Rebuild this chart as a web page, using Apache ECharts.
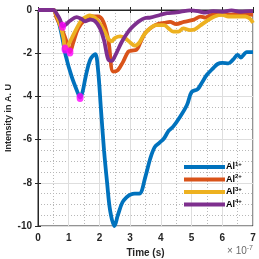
<!DOCTYPE html>
<html><head><meta charset="utf-8">
<script src="https://cdn.jsdelivr.net/npm/echarts@6/dist/echarts.min.js"></script>
<style>html,body{margin:0;padding:0;background:#fff}#c{width:259px;height:259px}</style>
</head><body><div id="c"></div>
<script>
// ---- data (time in units of 1e-7 s, intensity in A.U.) ----
const ionBase = 'Al';
const ionCharges = ['1+', '2+', '3+', '4+'];
const xTicks = [0, 1, 2, 3, 4, 5, 6, 7];
const yTicks = [0, -2, -4, -6, -8, -10];
const xTitle = 'Time (s)';
const yTitle = 'Intensity in A. U';

const al1T = [0, 0.5, 0.6, 0.7, 0.8, 0.9, 1.1, 1.3, 1.37, 1.45, 1.55, 1.7, 1.86, 1.95, 2.05, 2.15, 2.25, 2.35, 2.49, 2.6, 2.75, 2.9, 3.0, 3.15, 3.3, 3.5, 3.65, 3.8, 3.95, 4.1, 4.25, 4.4, 4.6, 4.85, 5.0, 5.2, 5.35, 5.5, 5.7, 5.85, 6.0, 6.2, 6.35, 6.5, 6.6, 6.8, 7.0];
const al1V = [0, 0, -0.25, -0.7, -1.35, -2.1, -3.1, -3.85, -4.05, -3.8, -3.1, -2.3, -2.04, -2.7, -4.6, -6.5, -8.0, -9.3, -10.0, -9.5, -8.9, -8.65, -8.55, -8.5, -8.5, -7.7, -6.9, -6.35, -6.15, -5.95, -5.6, -5.4, -5.0, -4.4, -3.8, -3.66, -3.33, -3.0, -2.7, -2.5, -2.45, -2.47, -2.3, -2.08, -2.2, -1.95, -1.95];

const al2T = [0, 0.5, 0.6, 0.77, 0.93, 1.04, 1.15, 1.31, 1.53, 1.75, 1.96, 2.13, 2.29, 2.45, 2.6, 2.77, 2.94, 3.05, 3.2, 3.35, 3.5, 3.7, 3.9, 4.1, 4.3, 4.5, 4.75, 5.05, 5.3, 5.45, 5.65, 5.9, 6.2, 6.5, 6.8, 7.0];
const al2V = [0, 0, -0.35, -0.85, -1.47, -1.95, -1.5, -0.85, -0.46, -0.3, -0.3, -0.55, -1.4, -2.85, -2.78, -2.4, -1.93, -1.88, -1.85, -1.45, -1.05, -0.8, -0.65, -0.6, -0.55, -0.65, -0.55, -0.46, -0.31, -0.35, -0.22, -0.2, -0.22, -0.18, -0.2, -0.22];

const al3T = [0, 0.5, 0.6, 0.72, 0.83, 0.88, 0.95, 1.1, 1.26, 1.42, 1.58, 1.69, 1.85, 2.0, 2.15, 2.3, 2.4, 2.5, 2.67, 2.83, 3.0, 3.15, 3.3, 3.45, 3.65, 3.85, 4.1, 4.25, 4.4, 4.57, 4.73, 4.95, 5.1, 5.3, 5.5, 5.75, 6.0, 6.2, 6.45, 6.75, 6.9, 7.0];
const al3V = [0, 0, -0.23, -0.69, -1.3, -1.8, -1.7, -1.3, -0.85, -0.46, -0.31, -0.25, -0.35, -0.6, -0.95, -1.35, -1.45, -1.3, -1.22, -1.3, -1.5, -1.65, -1.5, -1.15, -0.85, -0.7, -0.7, -0.85, -1.0, -1.0, -0.85, -0.93, -0.9, -0.7, -0.5, -0.3, -0.23, -0.3, -0.3, -0.3, -0.4, -0.6];

const al4T = [0, 0.5, 0.62, 0.72, 0.8, 0.9, 1.04, 1.26, 1.42, 1.53, 1.69, 1.86, 2.02, 2.15, 2.29, 2.4, 2.5, 2.73, 2.94, 3.1, 3.27, 3.49, 3.65, 3.97, 4.2, 4.45, 4.65, 4.95, 5.2, 5.45, 5.7, 6.0, 6.3, 6.6, 6.9, 7.0];
const al4V = [0, 0, -0.2, -0.45, -0.75, -0.68, -0.5, -0.33, -0.42, -0.52, -0.45, -0.52, -0.85, -1.4, -2.3, -2.35, -2.15, -1.47, -1.0, -0.75, -0.54, -0.37, -0.35, -0.23, -0.15, -0.12, -0.08, -0.02, -0.05, -0.12, -0.05, -0.08, -0.02, -0.08, -0.05, -0.05];

const markerT = [0.8, 0.88, 1.04, 1.37];
const markerV = [-0.75, -1.8, -1.95, -4.05];

// ---- chart ----
const colors = ['#0072BD', '#D95319', '#EDB120', '#7E2F8E'];
const seriesT = [al1T, al2T, al3T, al4T];
const seriesV = [al1V, al2V, al3V, al4V];
const FONT = 'Liberation Sans';
const names = ionCharges.map(c => ionBase + c);

const lineSeries = names.map((n, i) => ({
  name: n, type: 'line', smooth: 0.35, symbol: 'none',
  xAxisIndex: 0, yAxisIndex: 0,
  lineStyle: { width: 3.8, color: colors[i] }, itemStyle: { color: colors[i] },
  data: seriesT[i].map((t, k) => [t, seriesV[i][k]]), z: 2 + i
}));

const chart = echarts.init(document.getElementById('c'), null, { renderer: 'canvas' });
chart.setOption({
  animation: false,
  textStyle: { fontFamily: FONT },
  grid: { left: 38, top: 10, right: 6, bottom: 33, outerBoundsMode: 'none', containLabel: false,
    show: true, borderColor: '#262626', borderWidth: 1, backgroundColor: 'transparent' },
  xAxis: [{
    type: 'value', min: 0, max: 7, interval: 1,
    axisLine: { show: true, lineStyle: { color: '#262626' } },
    axisTick: { show: true, inside: true, length: 3, lineStyle: { color: '#262626' } },
    axisLabel: { color: '#262626', fontSize: 10, fontWeight: 'bold', margin: 7,
      formatter: v => xTicks.includes(v) ? String(v) : '' },
    splitLine: { show: true, lineStyle: { color: '#dedede', width: 1 } },
    minorTick: { show: true, splitNumber: 2, length: 0, lineStyle: { opacity: 0 } },
    minorSplitLine: { show: true, lineStyle: { color: '#b8b8b8', type: [1, 2], width: 1 } },
    name: xTitle, nameLocation: 'middle', nameGap: 20,
    nameTextStyle: { fontSize: 10, fontWeight: 'bold', color: '#262626' }
  }, {
    type: 'value', min: 0, max: 7, interval: 1, position: 'top',
    axisLine: { show: false }, axisLabel: { show: false }, splitLine: { show: false },
    axisTick: { show: true, inside: true, length: 3, lineStyle: { color: '#262626' } }
  }],
  yAxis: [{
    type: 'value', min: -10, max: 0, interval: 2,
    axisLine: { show: true, lineStyle: { color: '#262626' } },
    axisTick: { show: true, inside: true, length: 3, lineStyle: { color: '#262626' } },
    axisLabel: { color: '#262626', fontSize: 10, fontWeight: 'bold', margin: 6,
      formatter: v => yTicks.includes(v) ? String(v) : '' },
    splitLine: { show: true, lineStyle: { color: '#dedede', width: 1 } },
    minorTick: { show: true, splitNumber: 4, length: 0, lineStyle: { opacity: 0 } },
    minorSplitLine: { show: true, lineStyle: { color: '#b8b8b8', type: [1, 2], width: 1 } }
  }, {
    type: 'value', min: -10, max: 0, interval: 2, position: 'right',
    axisLine: { show: false }, axisLabel: { show: false }, splitLine: { show: false },
    axisTick: { show: true, inside: true, length: 3, lineStyle: { color: '#262626' } }
  }],
  legend: {
    orient: 'vertical', left: 179, top: 156,
    icon: 'rect', itemWidth: 41, itemHeight: 4, itemGap: 2,
    data: names,
    formatter: n => '{b|' + ionBase + '}{s|' + n.slice(ionBase.length) + '}',
    textStyle: {
      color: '#000', padding: [0, 0, 0, -4],
      rich: {
        b: { fontSize: 9, fontWeight: 'bold', fontFamily: FONT, color: '#000', lineHeight: 12 },
        s: { fontSize: 6, fontWeight: 'bold', fontFamily: FONT, color: '#000', verticalAlign: 'top', lineHeight: 12, padding: [0, 0, 4, 0] }
      }
    }
  },
  graphic: [{
    type: 'text', x: 9, y: 118, rotation: Math.PI / 2,
    style: { text: yTitle, fontFamily: FONT, fontSize: 9, fontWeight: 'bold', fill: '#262626',
      align: 'center', verticalAlign: 'middle' }
  }, {
    type: 'text', right: 6, top: 245,
    style: {
      text: '{m|× 10}{e|-7}', fontFamily: FONT,
      rich: {
        m: { fontSize: 10, fill: '#6a6a6a', fontFamily: FONT },
        e: { fontSize: 7, fill: '#6a6a6a', fontFamily: FONT, padding: [0, 0, 6, 0] }
      }
    }
  }],
  series: lineSeries.concat([{
    name: 'markers', type: 'scatter', symbol: 'circle', symbolSize: [7, 9],
    itemStyle: { color: '#FF00FF' }, z: 10,
    data: markerT.map((t, k) => [t, markerV[k]])
  }])
});
</script></body></html>
